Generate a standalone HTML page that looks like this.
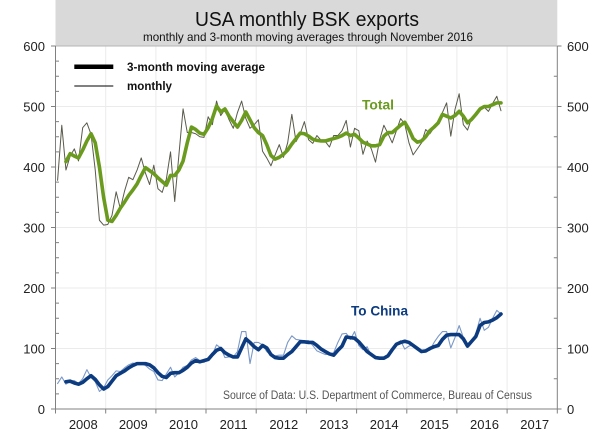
<!DOCTYPE html>
<html><head><meta charset="utf-8"><style>
html,body{margin:0;padding:0;background:#fff;}
svg{display:block;font-family:"Liberation Sans",Arial,sans-serif;}
</style></head><body>
<svg width="602" height="437" viewBox="0 0 602 437" xmlns="http://www.w3.org/2000/svg">
<rect x="0" y="0" width="602" height="437" fill="#fff"/>
<rect x="55.5" y="0" width="501.8" height="46" fill="#d9d9d9"/>
<text x="307" y="26" font-size="20" text-anchor="middle" fill="#111" textLength="224" lengthAdjust="spacingAndGlyphs">USA monthly BSK exports</text>
<text x="308" y="41" font-size="12" text-anchor="middle" fill="#111" textLength="330" lengthAdjust="spacingAndGlyphs">monthly and 3-month moving averages through November 2016</text>
<g stroke="#ebebeb" stroke-width="1">
<line x1="55.5" y1="348.5" x2="557.3" y2="348.5"/><line x1="55.5" y1="288" x2="557.3" y2="288"/><line x1="55.5" y1="227.5" x2="557.3" y2="227.5"/><line x1="55.5" y1="167" x2="557.3" y2="167"/><line x1="55.5" y1="106.5" x2="557.3" y2="106.5"/>
<line x1="105.7" y1="46" x2="105.7" y2="409"/><line x1="155.9" y1="46" x2="155.9" y2="409"/><line x1="206" y1="46" x2="206" y2="409"/><line x1="256.2" y1="46" x2="256.2" y2="409"/><line x1="306.4" y1="46" x2="306.4" y2="409"/><line x1="356.6" y1="46" x2="356.6" y2="409"/><line x1="406.8" y1="46" x2="406.8" y2="409"/><line x1="456.9" y1="46" x2="456.9" y2="409"/><line x1="507.1" y1="46" x2="507.1" y2="409"/>
</g>
<line x1="55.5" y1="46" x2="557.3" y2="46" stroke="#b5b5b5" stroke-width="1"/>
<g stroke="#808080" stroke-width="1" fill="none">
<line x1="55.5" y1="46" x2="55.5" y2="409"/>
<line x1="557.3" y1="46" x2="557.3" y2="409"/>
<line x1="55.5" y1="409" x2="557.3" y2="409"/>
<path d="M51 46H55.5M51 106.5H55.5M51 167H55.5M51 227.5H55.5M51 288H55.5M51 348.5H55.5M51 409H55.5"/>
<path d="M557.3 46H561.5M557.3 106.5H561.5M557.3 167H561.5M557.3 227.5H561.5M557.3 288H561.5M557.3 348.5H561.5M557.3 409H561.5"/>
<path d="M55.5 61.1H59M55.5 76.2H59M55.5 91.4H59M55.5 121.6H59M55.5 136.8H59M55.5 151.9H59M55.5 182.1H59M55.5 197.3H59M55.5 212.4H59M55.5 242.6H59M55.5 257.8H59M55.5 272.9H59M55.5 303.1H59M55.5 318.3H59M55.5 333.4H59M55.5 363.6H59M55.5 378.8H59M55.5 393.9H59"/>
<path d="M553.8 76.2H557.3M553.8 136.8H557.3M553.8 197.3H557.3M553.8 257.8H557.3M553.8 318.3H557.3M553.8 378.8H557.3"/>
<path d="M55.5 409V413.5M105.7 409V413.5M155.9 409V413.5M206 409V413.5M256.2 409V413.5M306.4 409V413.5M356.6 409V413.5M406.8 409V413.5M456.9 409V413.5M507.1 409V413.5M557.3 409V413.5"/>
</g>
<g font-size="13" fill="#222" text-anchor="end">
<text x="45" y="51">600</text><text x="45" y="111.5">500</text><text x="45" y="172">400</text><text x="45" y="232.5">300</text><text x="45" y="293">200</text><text x="45" y="353.5">100</text><text x="45" y="414">0</text>
</g>
<g font-size="13" fill="#222" text-anchor="start">
<text x="567" y="51">600</text><text x="567" y="111.5">500</text><text x="567" y="172">400</text><text x="567" y="232.5">300</text><text x="567" y="293">200</text><text x="567" y="353.5">100</text><text x="567" y="414">0</text>
</g>
<g font-size="13" fill="#222" text-anchor="middle">
<text x="83.3" y="429">2008</text><text x="133.3" y="429">2009</text><text x="183.5" y="429">2010</text><text x="233.6" y="429">2011</text><text x="283.8" y="429">2012</text><text x="334" y="429">2013</text><text x="384.2" y="429">2014</text><text x="434.4" y="429">2015</text><text x="484.5" y="429">2016</text><text x="534.7" y="429">2017</text>
</g>
<text x="223" y="399" font-size="11.5" fill="#555" textLength="309" lengthAdjust="spacingAndGlyphs">Source of Data: U.S. Department of Commerce, Bureau of Census</text>
<line x1="74.3" y1="66.7" x2="113.3" y2="66.7" stroke="#000" stroke-width="4.5"/>
<line x1="74.3" y1="86" x2="113.3" y2="86" stroke="#000" stroke-width="1"/>
<text x="127" y="71" font-size="12" font-weight="bold" fill="#111" textLength="138" lengthAdjust="spacingAndGlyphs">3-month moving average</text>
<text x="127" y="90" font-size="12" font-weight="bold" fill="#111" textLength="45" lengthAdjust="spacingAndGlyphs">monthly</text>
<text x="362" y="109.5" font-size="14" font-weight="bold" fill="#6b9b1e" textLength="32" lengthAdjust="spacingAndGlyphs">Total</text>
<text x="351" y="315.5" font-size="14" font-weight="bold" fill="#0c3b80" textLength="57" lengthAdjust="spacingAndGlyphs">To China</text>
<g transform="matrix(4.183 0 0 -0.605 57.59 409)" fill="none" stroke-linejoin="round" stroke-linecap="round">
<polyline vector-effect="non-scaling-stroke" stroke="#5a5a4c" stroke-width="1" points="0,378 1,469 2,395 3,418 4,430 5,410 6,465 7,473 8,454 9,395 10,312 11,304 12,305 13,320 14,359 15,331 16,360 17,383 18,379 19,395 20,415 21,390 22,371 23,403 24,364 25,358 26,380 27,425 28,343 29,420 30,496 31,457 32,457 33,455 34,450 35,449 36,483 37,470 38,509 39,485 40,495 41,478 42,464 43,490 44,509 45,480 46,464 47,470 48,478 49,426 50,415 51,402 52,420 53,437 54,416 55,440 56,487 57,442 58,455 59,475 60,445 61,439 62,452 63,444 64,442 65,433 66,452 67,452 68,460 69,477 70,433 71,464 72,460 73,421 74,443 75,430 76,408 77,445 78,469 79,455 80,440 81,460 82,480 83,471 84,440 85,420 86,430 87,440 88,462 89,455 90,465 91,476 92,490 93,506 94,451 95,495 96,521 97,470 98,461 99,481 100,490 101,497 102,499 103,492 104,505 105,517 106,493"/>
<polyline vector-effect="non-scaling-stroke" stroke="#6b9b1e" stroke-width="3.6" points="2,409 3,422 4,418 5,415 6,428 7,443 8,455 9,440 10,400 11,350 12,312 13,310 14,320 15,332 16,342 17,353 18,362 19,372 20,386 21,399 22,394 23,389 24,382 25,376 26,370 27,386 28,386 29,395 30,410 31,440 32,466 33,462 34,456 35,454 36,465 37,480 38,501 39,491 40,496 41,484 42,475 43,466 44,477 45,491 46,478 47,465 48,457 49,452 50,437 51,419 52,413 53,416 54,421 55,428 56,438 57,447 58,456 59,455 60,451 61,446 62,444 63,443 64,443 65,445 66,447 67,449 68,452 69,456 70,452 71,454 72,448 73,441 74,438 75,435 76,435 77,437 78,451 79,457 80,457 81,463 82,469 83,474 84,462 85,447 86,441 87,443 88,450 89,460 90,466 91,473 92,487 93,484 94,481 95,485 96,492 97,484 98,473 99,479 100,487 101,496 102,500 103,500 104,503 105,506 106,506"/>
<polyline vector-effect="non-scaling-stroke" stroke="#7b98c8" stroke-width="1.1" points="0,42 1,53 2,41 3,46 4,47 5,42 6,50 7,65 8,52 9,45 10,29 11,35 12,48 13,55 14,63 15,62 16,68 17,73 18,76 19,74 20,75 21,72 22,66 23,62 24,48 25,47 26,58 27,69 28,53 29,60 30,69 31,72 32,81 33,85 34,80 35,77 36,85 37,90 38,106 39,101 40,85 41,86 42,86 43,95 44,128 45,128 46,75 47,110 48,110 49,106 50,95 51,89 52,88 53,89 54,89 55,110 56,121 57,115 58,114 59,113 60,113 61,105 62,96 63,93 64,90 65,91 66,93 67,110 68,124 69,125 70,115 71,128 72,105 73,98 74,103 75,88 76,86 77,83 78,82 79,90 80,98 81,108 82,113 83,99 84,104 85,106 86,100 87,97 88,97 89,97 90,110 91,120 92,128 93,128 94,101 95,118 96,138 97,118 98,103 99,110 100,125 101,150 102,130 103,135 104,150 105,163 106,157"/>
<polyline vector-effect="non-scaling-stroke" stroke="#0c3b80" stroke-width="3.6" points="2,45 3,46 4,43 5,41 6,44 7,50 8,55 9,49 10,40 11,33 12,37 13,46 14,55 15,59 16,63 17,68 18,72 19,75 20,75 21,75 22,73 23,68 24,60 25,54 26,52 27,59 28,60 29,60 30,64 31,69 32,76 33,80 34,78 35,80 36,82 37,90 38,97 39,100 40,93 41,89 42,86 43,86 44,101 45,116 46,110 47,103 48,98 49,105 50,101 51,90 52,85 53,84 54,84 55,90 56,95 57,103 58,111 59,111 60,110 61,110 62,105 63,99 64,95 65,91 66,89 67,97 68,104 69,119 70,118 71,117 72,111 73,103 74,95 75,90 76,85 77,84 78,84 79,88 80,98 81,107 82,110 83,112 84,110 85,105 86,100 87,95 88,96 89,100 90,103 91,105 92,115 93,122 94,123 95,123 96,123 97,116 98,104 99,112 100,120 101,138 102,143 103,144 104,147 105,151 106,157"/>
</g>
</svg>
</body></html>
